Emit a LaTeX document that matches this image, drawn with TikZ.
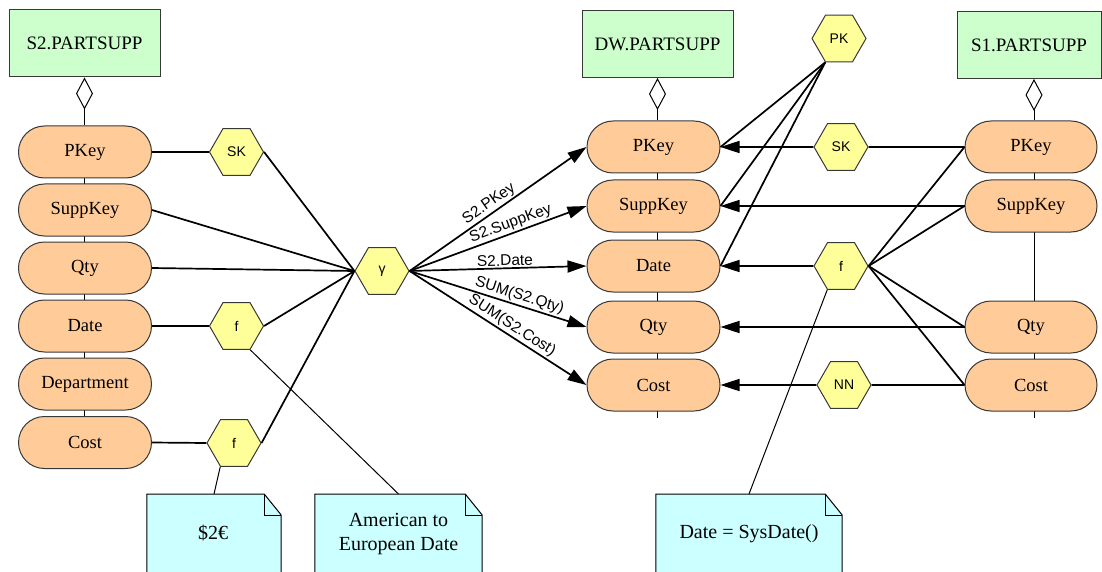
\documentclass[tikz,border=0pt]{standalone}
\usepackage{fontspec}
\setmainfont{Liberation Serif}
\newfontfamily\opfont{Liberation Sans}
\usetikzlibrary{shapes.geometric, arrows.meta, calc, backgrounds}

\definecolor{tablefill}{HTML}{CCFFCC}
\definecolor{attrfill}{HTML}{FFCC99}
\definecolor{opfill}{HTML}{FFFF99}
\definecolor{notefill}{HTML}{CCFFFF}
\definecolor{framegray}{HTML}{383838}

% dog-eared outline of a note node
\newcommand\dogear[1]{%
  \draw[noteframe] (#1.north west) -- ([xshift=-17pt]#1.north east)
    -- ([yshift=-21pt]#1.north east) -- (#1.south east) -- (#1.south west) -- cycle;
  \draw[noteframe, fill=none] ([xshift=-17pt]#1.north east) |- ([yshift=-21pt]#1.north east);}

\begin{document}
\begin{tikzpicture}[x=1pt, y=-1pt,
  table/.style={draw=framegray, fill=tablefill, line width=1pt, minimum width=151pt,
    minimum height=67pt, inner sep=0pt, font=\fontsize{19}{21}\selectfont},
  attr/.style={draw=framegray, fill=attrfill, line width=1pt, rounded corners=26pt,
    minimum width=133pt, minimum height=52pt, inner sep=0pt, font=\fontsize{18.5}{20}\selectfont},
  op/.style={regular polygon, regular polygon sides=6, draw=framegray, fill=opfill,
    line width=1pt, minimum size=54pt, inner sep=0pt, font=\opfont\fontsize{14}{16}\selectfont},
  notebox/.style={draw=none, fill=none, inner sep=0pt, anchor=north},
  notetext/.style={align=center, inner sep=0pt, font=\fontsize{20}{24}\selectfont},
  noteframe/.style={draw=black, fill=notefill, line width=1pt, line join=miter},
  flow/.style={line width=1.7pt, black},
  arr/.style={flow, -{Triangle[length=19pt,width=12pt]}},
  thin/.style={line width=1pt, black},
  agg/.style={thin, {Diamond[open, length=32pt, width=17pt]}-},
  lbl/.style={font=\opfont\fontsize{15.5}{17}\selectfont, sloped, above, inner sep=1.5pt}]

\useasboundingbox (0,0) rectangle (1102,572);
\clip (0,0) rectangle (1102,572);

% ---------- source S2 ----------
\node[table] (s2) at (84.5,43.5) {S2.PARTSUPP};
\node[attr] (lpk)   at (85,152)   {PKey};
\node[attr] (lsk)   at (85,210)   {SuppKey};
\node[attr] (lqty)  at (85,268)   {Qty};
\node[attr] (ldate) at (85,326)   {Date};
\node[attr] (ldep)  at (85,384)   {Department};
\node[attr] (lcost) at (85,442.5) {Cost};

\node[op] (skl) at (236.5,152) {SK};
\node[op] (fd)  at (236.5,326) {f};
\node[op] (fc)  at (234,443)   {f};
\node[op] (gam) at (382,271)   {γ};

% ---------- target DW ----------
\node[table] (dw) at (657.5,44) {DW.PARTSUPP};
\node[attr] (dwpk)   at (653.5,147) {PKey};
\node[attr] (dwsk)   at (653.5,206) {SuppKey};
\node[attr] (dwdate) at (653.5,266) {Date};
\node[attr] (dwqty)  at (653.5,327) {Qty};
\node[attr] (dwcost) at (653.5,385) {Cost};

\node[op] (pk)  at (839,38.5) {PK};
\node[op] (skr) at (841,147)  {SK};
\node[op] (fr)  at (841,266)  {f};
\node[op] (nn)  at (844,385)  {NN};

% ---------- source S1 ----------
\node[table, minimum width=144pt] (s1) at (1029,45.5) {S1.PARTSUPP};
\coordinate (s1axis) at (1034,79);
\node[attr, minimum width=132pt] (s1pk)   at (1031,147) {PKey};
\node[attr, minimum width=132pt] (s1sk)   at (1031,206) {SuppKey};
\node[attr, minimum width=132pt] (s1qty)  at (1031,327) {Qty};
\node[attr, minimum width=132pt] (s1cost) at (1031,385) {Cost};

% ---------- notes ----------
\node[notebox, minimum width=134pt, minimum height=100pt] (n1) at (214,494) {};
\node[notebox, minimum width=167pt, minimum height=100pt] (n2) at (398.5,494) {};
\node[notebox, minimum width=186pt, minimum height=100pt] (n3) at (749,494) {};

% note outlines and table-to-attribute axes
\begin{scope}[on background layer]
  \dogear{n1}
  \dogear{n2}
  \dogear{n3}
  \draw[thin] (s2.south |- lpk.center) -- (s2.south |- lcost.center);
  \draw[thin] (dw.south |- dwpk.center) -- ($(dw.south |- dwcost.south)+(0,6)$);
  \draw[thin] (s1axis |- s1pk.center) -- ($(s1axis |- s1cost.south)+(0,6)$);
\end{scope}
\draw[agg] (s2.south) -- (s2.south |- lpk.north);
\draw[agg] (dw.south) -- (dw.south |- dwpk.north);
\draw[agg] (s1axis) -- (s1axis |- s1pk.north);

\node[notetext] (n1t) at ($(n1.north)+(-1,39)$) {\$2€};
\node[notetext] (n2t) at ($(n2.north)+(0,40)$) {American to\\European Date};
\node[notetext] (n3t) at ($(n3.north)+(0,40)$) {Date = SysDate()};

% ---------- S2 side flows ----------
\draw[flow] (lpk.east) -- (skl.west);
\draw[flow] (skl.east) -- (gam.west);
\draw[flow] (lsk.east) -- (gam.west);
\draw[flow] (lqty.east) -- (gam.west);
\draw[flow] (ldate.east) -- (fd.west);
\draw[flow] (fd.east) -- (gam.west);
\draw[flow] (lcost.east) -- (fc.west);
\draw[flow] (fc.east) -- (gam.west);

\draw[arr] (gam.east) -- node[lbl, pos=0.48] {S2.PKey} (dwpk.west);
\draw[arr] (gam.east) -- node[lbl, pos=0.59] {S2.SuppKey} (dwsk.west);
\draw[arr] (gam.east) -- node[lbl, pos=0.54] {S2.Date} (dwdate.west);
\draw[arr] (gam.east) -- node[lbl, pos=0.605] {SUM(S2.Qty)} (dwqty.west);
\draw[arr] (gam.east) -- node[lbl, pos=0.55] {SUM(S2.Cost)} (dwcost.west);

% ---------- S1 side flows ----------
\draw[flow] (s1pk.west) -- (skr.east);
\draw[arr]  (skr.west) -- (dwpk.east);
\draw[arr]  (s1sk.west) -- (dwsk.east);
\draw[flow] (fr.east) -- (s1pk.west);
\draw[flow] (fr.east) -- (s1sk.west);
\draw[flow] (fr.east) -- (s1qty.west);
\draw[flow] (fr.east) -- (s1cost.west);
\draw[arr]  (fr.west) -- (dwdate.east);
\draw[arr]  (s1qty.west) -- (dwqty.east);
\draw[flow] (s1cost.west) -- (nn.east);
\draw[arr]  (nn.west) -- (dwcost.east);

% primary key constraint
\draw[flow] (pk.240) -- (dwpk.east);
\draw[flow] (pk.240) -- (dwsk.east);
\draw[flow] (pk.240) -- (dwdate.east);

% note attachments
\draw[thin] (fc.240) -- (n1.north);
\draw[thin] (fd.300) -- (n2.north);
\draw[thin] (fr.240) -- (n3.north);
\end{tikzpicture}
\end{document}
